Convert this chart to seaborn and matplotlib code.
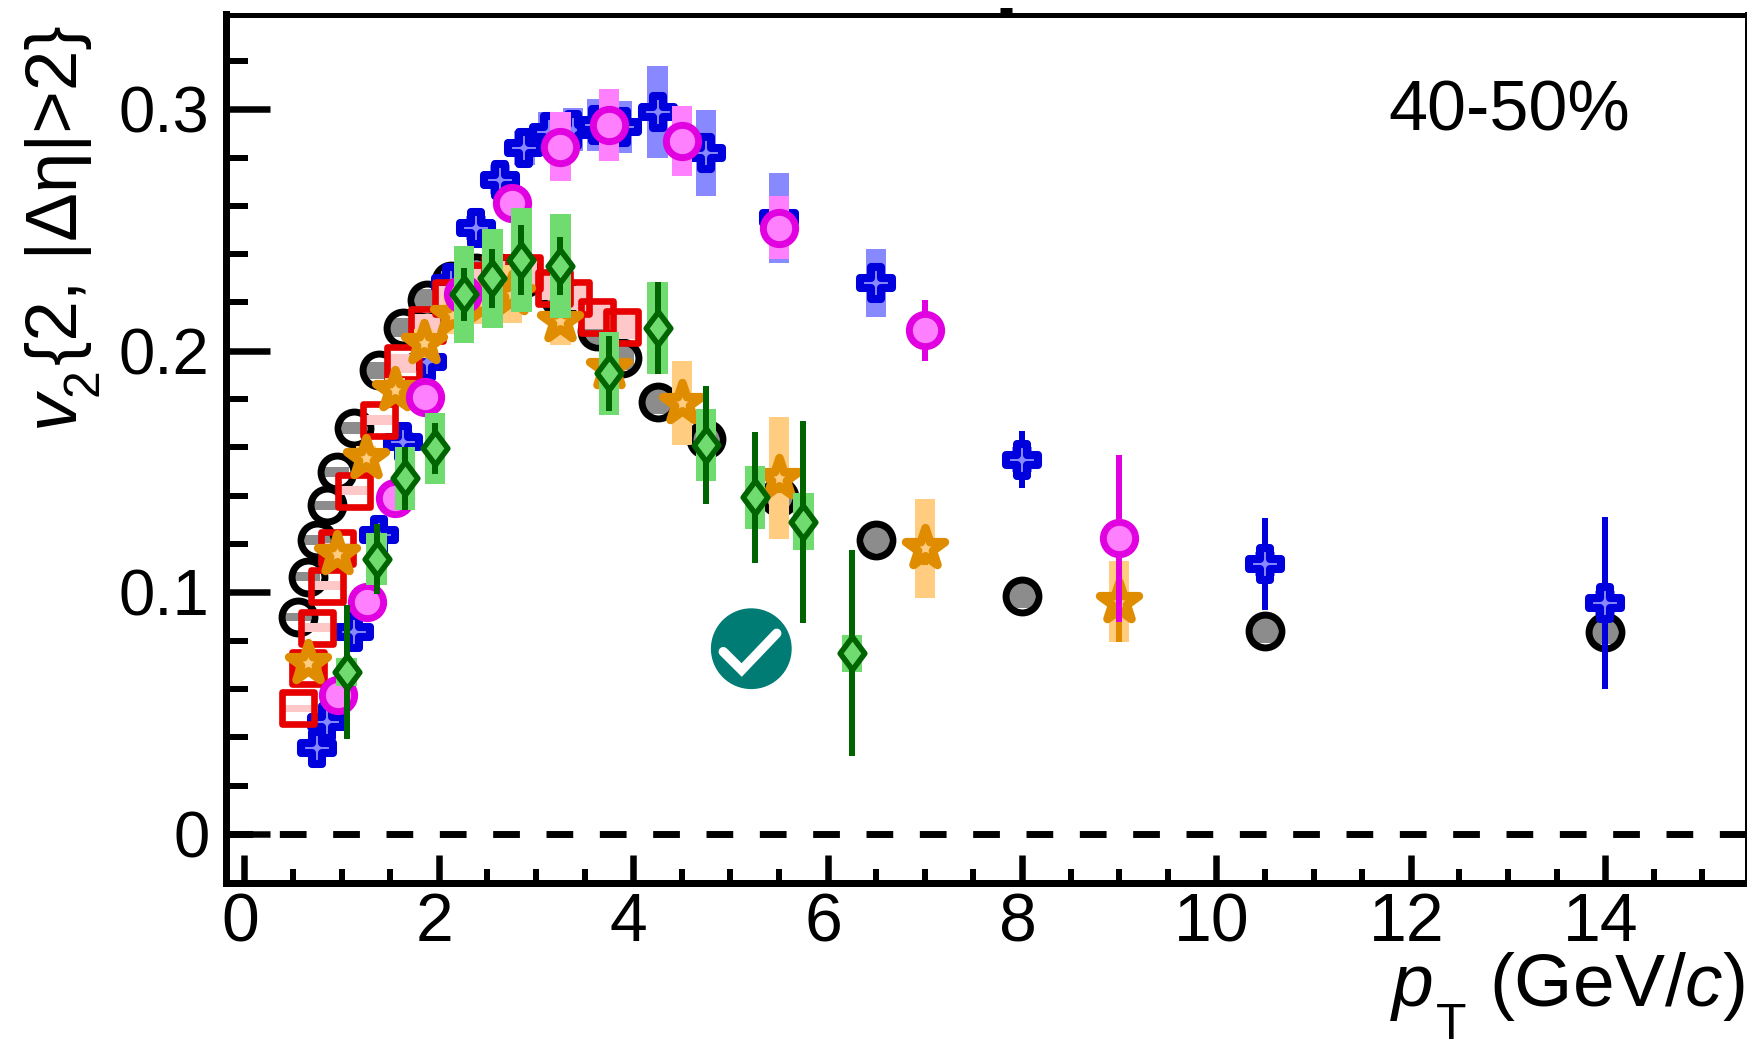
import matplotlib
matplotlib.use("Agg")
import matplotlib.pyplot as plt
from matplotlib.transforms import ScaledTranslation
import numpy as np
import seaborn as sns

# charged hadrons (black open circles)
ch_pt = [0.55, 0.65, 0.75, 0.85, 0.95, 1.13, 1.38, 1.63, 1.88, 2.13, 2.38, 2.63, 2.88, 3.25, 3.63, 3.88, 4.25, 4.75, 5.5, 6.5, 8.0, 10.5, 14.0]
ch_v2 = [0.0899, 0.1065, 0.1217, 0.136, 0.150, 0.168, 0.192, 0.2096, 0.221, 0.229, 0.232, 0.232, 0.230, 0.222, 0.208, 0.197, 0.179, 0.1635, 0.1395, 0.1217, 0.0987, 0.0842, 0.0838]
ch_sys = [0.0017, 0.0018, 0.002, 0.002, 0.0021, 0.0025, 0.0035, 0.004, 0.0046, 0.005, 0.005, 0.005, 0.005, 0.005, 0.005, 0.005, 0.0052, 0.0052, 0.0052, 0.0052, 0.0052, 0.0052, 0.0052]

# pions (red squares)
pi_pt = [0.55, 0.65, 0.75, 0.85, 0.95, 1.13, 1.38, 1.63, 1.88, 2.13, 2.38, 2.63, 2.88, 3.18, 3.38, 3.63, 3.88]
pi_v2 = [0.052, 0.0686, 0.0854, 0.1028, 0.1185, 0.1421, 0.1714, 0.1948, 0.2107, 0.222, 0.229, 0.232, 0.232, 0.226, 0.2217, 0.214, 0.21]
pi_sys = [0.0014, 0.0016, 0.002, 0.002, 0.002, 0.002, 0.002, 0.004, 0.0046, 0.005, 0.005, 0.005, 0.005, 0.005, 0.005, 0.005, 0.005]

# protons (blue crosses)
pr_pt = [0.75, 0.85, 1.13, 1.38, 1.63, 1.88, 2.13, 2.38, 2.63, 2.88, 3.13, 3.38, 3.63, 3.88, 4.25, 4.75, 5.5, 6.5, 8.0, 10.5, 14.0]
pr_v2 = [0.0355, 0.0465, 0.0837, 0.1238, 0.1624, 0.1955, 0.228, 0.2507, 0.2707, 0.2838, 0.2907, 0.2915, 0.2935, 0.2925, 0.299, 0.2817, 0.255, 0.228, 0.155, 0.1117, 0.0956]
pr_stat = [0.001, 0.001, 0.001, 0.001, 0.001, 0.001, 0.001, 0.001, 0.001, 0.002, 0.002, 0.002, 0.002, 0.002, 0.004, 0.004, 0.006, 0.006, 0.0117, 0.019, 0.0357]
pr_sys = [0.002, 0.002, 0.003, 0.003, 0.004, 0.004, 0.005, 0.005, 0.006, 0.007, 0.008, 0.009, 0.0107, 0.0107, 0.019, 0.0178, 0.0185, 0.014, 0.005, 0.005, 0.005]

# kaons (magenta circles)
ka_pt = [0.96, 1.26, 1.55, 1.86, 2.25, 2.75, 3.25, 3.75, 4.5, 5.5, 7.0, 9.0]
ka_v2 = [0.0575, 0.0962, 0.1392, 0.181, 0.2235, 0.261, 0.2845, 0.2935, 0.2868, 0.2509, 0.2085, 0.1223]
ka_stat = [0.001, 0.001, 0.001, 0.001, 0.002, 0.002, 0.002, 0.002, 0.004, 0.006, 0.0127, 0.0346]
ka_sys = [0.003, 0.003, 0.004, 0.004, 0.005, 0.006, 0.0143, 0.0148, 0.0146, 0.013, 0.006, 0.006]

# lambda (orange stars)
la_pt = [0.65, 0.95, 1.25, 1.55, 1.85, 2.15, 2.45, 2.75, 3.25, 3.75, 4.5, 5.5, 7.0, 9.0]
la_v2 = [0.0706, 0.1159, 0.1555, 0.1838, 0.2032, 0.215, 0.22, 0.2235, 0.2125, 0.193, 0.1783, 0.1473, 0.1183, 0.0962]
la_stat = [0.001, 0.001, 0.001, 0.001, 0.001, 0.002, 0.002, 0.002, 0.003, 0.004, 0.005, 0.006, 0.007, 0.0168]
la_sys = [0.003, 0.004, 0.005, 0.005, 0.006, 0.008, 0.009, 0.012, 0.01, 0.009, 0.0175, 0.0252, 0.0205, 0.0168]

# phi (green diamonds)
ph_pt = [1.05, 1.36, 1.65, 1.96, 2.26, 2.55, 2.85, 3.25, 3.75, 4.25, 4.75, 5.25, 5.75, 6.25]
ph_v2 = [0.0669, 0.1138, 0.1472, 0.1596, 0.2234, 0.23, 0.2376, 0.2352, 0.1907, 0.2093, 0.161, 0.1393, 0.1293, 0.0748]
ph_stat = [0.0277, 0.0145, 0.013, 0.0107, 0.011, 0.0123, 0.0145, 0.012, 0.0155, 0.019, 0.0244, 0.027, 0.0418, 0.0426]
ph_sys = [0.0058, 0.0107, 0.013, 0.0148, 0.0201, 0.0206, 0.0215, 0.0216, 0.0172, 0.019, 0.0148, 0.0129, 0.0117, 0.0076]

x_ticks = [0, 2, 4, 6, 8, 10, 12, 14]
y_ticks = [0, 0.1, 0.2, 0.3]
y_tick_labels = ["0", "0.1", "0.2", "0.3"]

PX = 0.72  # points per pixel at dpi 100
W, H = 1747, 1040

sns.set_theme(style="ticks")
plt.rcParams["font.family"] = ["Liberation Sans", "DejaVu Sans"]
plt.rcParams["mathtext.fontset"] = "custom"
plt.rcParams["mathtext.rm"] = "Liberation Sans"
plt.rcParams["mathtext.it"] = "Liberation Sans:italic"
for key in ["text.color", "axes.edgecolor", "axes.labelcolor", "xtick.color", "ytick.color"]:
    plt.rcParams[key] = "black"

fig = plt.figure(figsize=(W / 100, H / 100), dpi=100)
ax = fig.add_axes([226 / W, 1 - 883 / H, 1 - 226 / W, (883 - 14.5) / H])


def draw_series(pt, v2, sys, stat, z, marker, size, edge, face, box, lw, box_w=0.21):
    pt = np.array(pt)
    v2 = np.array(v2)
    sys = np.array(sys)
    ax.bar(pt, 2 * sys, bottom=v2 - sys, width=box_w, color=box, linewidth=0, zorder=z)
    if stat is not None:
        ax.errorbar(pt, v2, yerr=stat, fmt="none", ecolor=edge, elinewidth=6 * PX, capsize=0, zorder=z + 0.1)
    sns.scatterplot(x=pt, y=v2, ax=ax, marker=marker, s=size, color=face, edgecolor=edge,
                    linewidth=lw, legend=False, zorder=z + 0.2)


diamond = [(0, 1), (0.75, 0), (0, -1), (-0.75, 0), (0, 1)]

draw_series(ch_pt, ch_v2, ch_sys, None, 2, "o", 560, "#000000", (1, 1, 1, 0), "#8c8c8c", 5, box_w=0.26)
draw_series(pr_pt, pr_v2, pr_sys, pr_stat, 3, "P", 560, "#0000dd", "#8888ff", "#8888ff", 5.8)
draw_series(pi_pt, pi_v2, pi_sys, None, 4, "s", 540, "#e60000", (1, 1, 1, 0), "#ffc8c8", 4.8, box_w=0.27)
draw_series(la_pt, la_v2, la_sys, la_stat, 5, "*", 860, "#e08c00", "#ffcc80", "#ffcc80", 6.2)
draw_series(ka_pt, ka_v2, ka_sys, ka_stat, 6, "o", 540, "#e000e0", "#ff80ff", "#ff80ff", 5)
draw_series(ph_pt, ph_v2, ph_sys, ph_stat, 7, diamond, 560, "#006400", "#70dc70", "#70dc70", 4)

ax.axhline(0, color="black", lw=5, dashes=(3.85, 3.83), dash_capstyle="butt", zorder=1.5)

ax.set_xlim(-0.19, 15.46)
ax.set_ylim(-0.0203, 0.3392)
ax.set_xticks(x_ticks)
ax.set_xticks(np.arange(0, 15.5, 0.5), minor=True)
ax.set_yticks(y_ticks)
ax.set_yticklabels(y_tick_labels)
ax.set_yticks(np.arange(0, 0.33, 0.02), minor=True)
ax.tick_params(axis="y", which="major", direction="in", length=44 * PX, width=6.5 * PX, labelsize=47, pad=12)
ax.tick_params(axis="y", which="minor", direction="in", length=22 * PX, width=6 * PX)
ax.tick_params(axis="x", which="major", direction="in", length=28 * PX, width=6.5 * PX, labelsize=49, pad=6)
ax.tick_params(axis="x", which="minor", direction="in", length=14 * PX, width=6 * PX)
for side, px in [("left", 7), ("bottom", 7), ("top", 5), ("right", 4)]:
    ax.spines[side].set_linewidth(px * PX)
for label in ax.get_xticklabels():
    label.set_transform(label.get_transform() + ScaledTranslation(-4.5 / 100, 0, fig.dpi_scale_trans))

ax.text(1509 / W, 1 - 112 / H, "40-50%", transform=fig.transFigure, fontsize=50.5, ha="center", va="center")

# x title, pieces placed by hand so the subscript sits as low as in the original
fig.text(1390 / W, 1 - 1006 / H, r"$\mathit{p}$", fontsize=54, ha="left", va="baseline")
fig.text(1436 / W, 1 - 1039 / H, "T", fontsize=36, ha="left", va="baseline")
fig.text(1745 / W, 1 - 1006 / H, r"(GeV/$\mathit{c}$)", fontsize=54, ha="right", va="baseline")

# y title, same idea
fig.text(77 / W, 1 - 432 / H, r"$\mathit{v}$", fontsize=54, rotation=90, rotation_mode="anchor", ha="left", va="baseline")
fig.text(97 / W, 1 - 396 / H, "2", fontsize=36, rotation=90, rotation_mode="anchor", ha="left", va="baseline")
fig.text(77 / W, 1 - 365 / H, "{2, |Δη|>2}", fontsize=52.5, rotation=90, rotation_mode="anchor", ha="left", va="baseline")

# small stray tick above the frame
fig.add_artist(plt.Line2D([1000, 1012], [H - 10, H - 10], color="black", lw=5 * PX, transform=None, solid_capstyle="butt"))

# verification badge on top of the chart
badge = plt.Circle((751.3, H - 648.7), 39.7, color="#007c74", transform=None, zorder=10)
fig.add_artist(badge)
fig.add_artist(plt.Line2D([723.3, 741.7, 776.7], [H - 651.7, H - 670, H - 633.3], color="white", lw=9.5 * PX,
                          transform=None, zorder=11, solid_joinstyle="miter"))

fig.savefig("out.png", dpi=100)
